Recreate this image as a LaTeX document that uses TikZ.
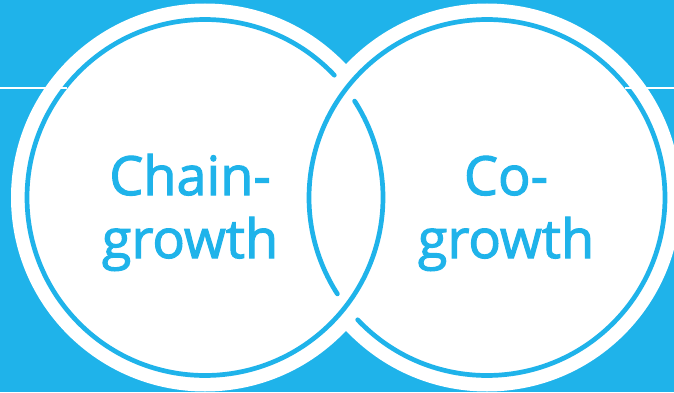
\documentclass[tikz,border=0pt]{standalone}
\usepackage{fontspec}
\newfontfamily\lblfont[FakeBold=2]{Open Sans}
\definecolor{bgblue}{HTML}{1FB3EA}
\begin{document}
\begin{tikzpicture}[x=1pt,y=1pt,
  ringline/.style={draw=bgblue, line width=4.7pt, line cap=round},
  barline/.style={draw=white, line width=2.5pt},
  lbltext/.style={text=bgblue, font=\lblfont\fontsize{54}{63}\selectfont, align=center, inner sep=0pt, anchor=base}]
\useasboundingbox (0,0) rectangle (674,392);
\clip (0,0) rectangle (674,392);
\fill[bgblue] (0,0) rectangle (674,392);
\coordinate (L) at (205,194.5);
\coordinate (R) at (487,194.5);
\fill[white] (L) circle[radius=194];
\fill[white] (R) circle[radius=194];
\draw[ringline] ([shift={(43.4:178)}]L) arc[start angle=43.4, end angle=392.8, radius=178];
\draw[ringline] ([shift={(223.4:178)}]R) arc[start angle=223.4, end angle=572.8, radius=178];
\coordinate (la) at (0,304);
\coordinate (lb) at (67,304);
\coordinate (ra) at (625,304);
\coordinate (rb) at (674,304);
\draw[barline] (la) -- (lb);
\draw[barline] (ra) -- (rb);
\node[lbltext] (chain) at (190,134) {Chain-\\growth};
\node[lbltext] (co) at (506,134) {Co-\\growth};
\end{tikzpicture}
\end{document}
